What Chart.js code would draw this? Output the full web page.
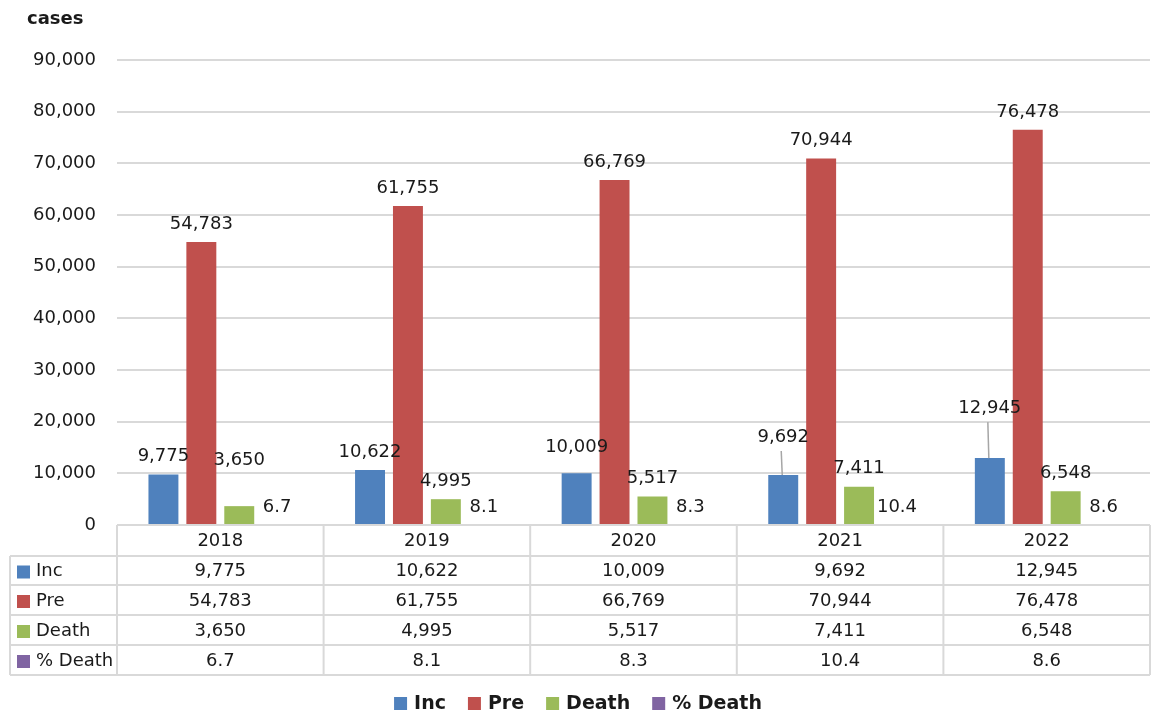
<!DOCTYPE html>
<html>
<head>
<meta charset="utf-8">
<script src="https://cdn.jsdelivr.net/npm/chart.js@4"></script>
<style>
  html, body { margin: 0; padding: 0; background: #fff; }
  #wrap { width: 1152px; height: 713px; position: relative; }
</style>
</head>
<body>
<div id="wrap"><canvas id="c" width="1152" height="713"></canvas></div>
<script>
// values
const years = ["2018", "2019", "2020", "2021", "2022"];
const incCases = [9775, 10622, 10009, 9692, 12945];
const preCases = [54783, 61755, 66769, 70944, 76478];
const deathCases = [3650, 4995, 5517, 7411, 6548];
const deathPct = [6.7, 8.1, 8.3, 10.4, 8.6];
const seriesNames = ["Inc", "Pre", "Death", "% Death"];

const yMax = 90000;
const yStep = 10000;

const FONT = "'DejaVu Sans', Verdana, sans-serif";
const colors = ["#4f81bd", "#c0504d", "#9bbb59", "#8064a2"];
const lineGray = "#d9d9d9";

// extra lift for a few labels that were moved up (dataset-index)
const labelLift = { "0-2": 8, "0-3": 20, "0-4": 32, "2-0": 28 };

const fmt = (v) => (Number.isInteger(v) ? v.toLocaleString("en-US") : v.toFixed(1));

const valueLabels = {
  id: "valueLabels",
  afterDatasetsDraw(chart) {
    const ctx = chart.ctx;
    ctx.save();
    ctx.font = "18px " + FONT;
    ctx.fillStyle = "#1a1a1a";
    ctx.textAlign = "center";
    ctx.textBaseline = "middle";
    chart.data.datasets.forEach((ds, di) => {
      chart.getDatasetMeta(di).data.forEach((bar, i) => {
        const lift = labelLift[di + "-" + i] || 0;
        const cy = bar.y - 18 - lift;
        if (lift > 15 && di === 0) {
          ctx.strokeStyle = "#a6a6a6";
          ctx.lineWidth = 1.5;
          ctx.beginPath();
          ctx.moveTo(bar.x - 2, cy + 14);
          ctx.lineTo(bar.x - 1, bar.y);
          ctx.stroke();
        }
        ctx.fillText(fmt(ds.data[i]), bar.x, cy);
      });
    });
    ctx.restore();
  },
};

const dataTable = {
  id: "dataTable",
  afterDraw(chart) {
    const ctx = chart.ctx;
    const xs = chart.scales.x;
    const area = chart.chartArea;
    const colW = (area.right - area.left) / years.length;
    const left = 10;
    const top = area.bottom;
    const rows = [top, 556, 585, 615, 645, 675];
    ctx.save();
    ctx.strokeStyle = lineGray;
    ctx.lineWidth = 2;
    ctx.beginPath();
    // horizontal lines
    ctx.moveTo(area.left, rows[0]);
    ctx.lineTo(area.right, rows[0]);
    for (let r = 1; r < rows.length; r++) {
      ctx.moveTo(left, rows[r]);
      ctx.lineTo(area.right, rows[r]);
    }
    // vertical lines
    ctx.moveTo(left, rows[1]);
    ctx.lineTo(left, rows[rows.length - 1]);
    for (let i = 0; i <= years.length; i++) {
      const x = area.left + i * colW;
      ctx.moveTo(x, rows[0]);
      ctx.lineTo(x, rows[rows.length - 1]);
    }
    ctx.stroke();

    ctx.font = "18px " + FONT;
    ctx.fillStyle = "#1a1a1a";
    ctx.textBaseline = "middle";
    ctx.textAlign = "center";
    years.forEach((y, i) => {
      ctx.fillText(y, xs.getPixelForValue(i), (rows[0] + rows[1]) / 2 + 1);
    });
    chart.data.datasets.forEach((ds, di) => {
      const cy = (rows[di + 1] + rows[di + 2]) / 2 + 1;
      ctx.fillStyle = colors[di];
      ctx.fillRect(17, cy - 6, 13, 13);
      ctx.fillStyle = "#1a1a1a";
      ctx.textAlign = "left";
      ctx.fillText(ds.label, 36, cy);
      ctx.textAlign = "center";
      ds.data.forEach((v, i) => {
        ctx.fillText(fmt(v), xs.getPixelForValue(i), cy);
      });
    });

    // legend
    ctx.font = "bold 19px " + FONT;
    const box = 13, gap = 7, sep = 22;
    const widths = seriesNames.map((n) => box + gap + ctx.measureText(n).width);
    const total = widths.reduce((a, b) => a + b, 0) + sep * (seriesNames.length - 1);
    let x = (chart.width - total) / 2 + 2;
    const ly = 703;
    ctx.textAlign = "left";
    seriesNames.forEach((n, i) => {
      ctx.fillStyle = colors[i];
      ctx.fillRect(x, ly - 6, box, box);
      ctx.fillStyle = "#1a1a1a";
      ctx.fillText(n, x + box + gap, ly + 1);
      x += widths[i] + sep;
    });

    // axis title
    ctx.font = "bold 18px " + FONT;
    ctx.fillText("cases", 27, 19);
    ctx.restore();
  },
};

new Chart(document.getElementById("c"), {
  type: "bar",
  data: {
    labels: years,
    datasets: [incCases, preCases, deathCases, deathPct].map((d, i) => ({
      label: seriesNames[i],
      data: d,
      backgroundColor: colors[i],
      categoryPercentage: 0.734,
      barPercentage: 0.79,
    })),
  },
  options: {
    responsive: false,
    animation: false,
    layout: { padding: { top: 60, bottom: 188, left: 0, right: 2 } },
    plugins: { legend: { display: false }, tooltip: { enabled: false } },
    scales: {
      x: {
        ticks: { display: false },
        grid: { display: false },
        border: { display: false },
        afterFit: (s) => { s.height = 0; },
      },
      y: {
        min: 0,
        max: yMax,
        ticks: {
          stepSize: yStep,
          color: "#1a1a1a",
          font: { family: FONT, size: 18 },
          padding: 21,
          callback: (v) => v.toLocaleString("en-US"),
        },
        grid: { color: lineGray, lineWidth: 2, drawTicks: false },
        border: { display: false },
        afterFit: (s) => { s.width = 117; },
      },
    },
  },
  plugins: [valueLabels, dataTable],
});
</script>
</body>
</html>
